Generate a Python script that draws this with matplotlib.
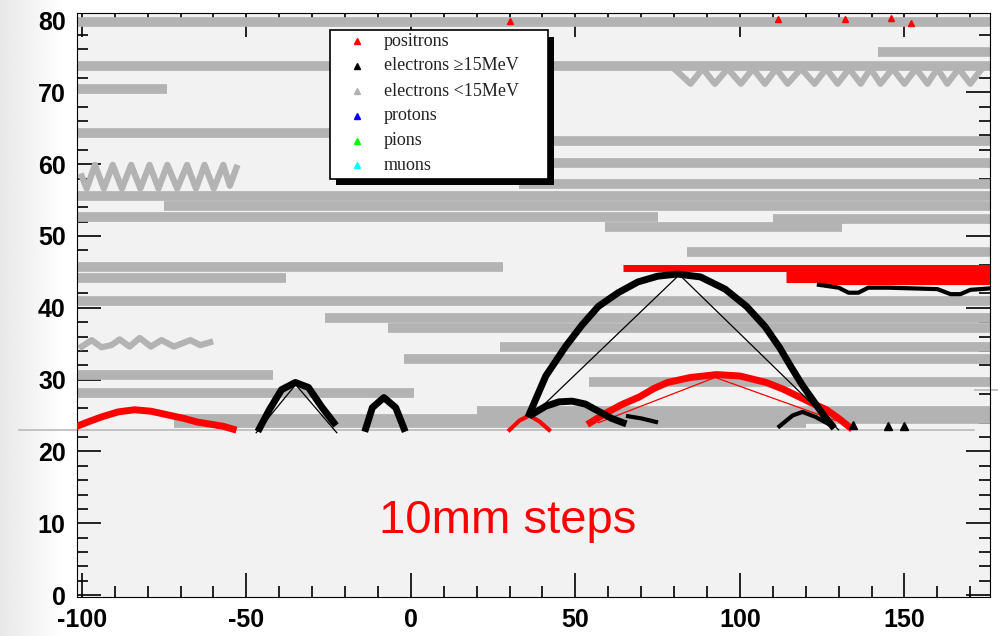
import numpy as np
import matplotlib
matplotlib.use('Agg')
import matplotlib.pyplot as plt
from matplotlib.patches import Rectangle
from matplotlib.ticker import MultipleLocator

plt.rcParams['axes.unicode_minus'] = False

# straight tracks of low energy electrons: start x, end x, height
grey_x0 = [-101.5, -101.5, 142, -101.5, -101.5, 40, 40, 33, -101.5, -75, -101.5, 110, 59,
           -101.5, 84, -101.5, -101.5, -26, -7, 27, -2, -101.5, -101.5, 54, -72, 20, -72]
grey_x1 = [176, 176, 176, -74, -5, 176, 176, 176, 176, 176, 75, 176, 131,
           28, 176, -38, 176, 176, 176, 176, 176, -42, 1, 176, 176, 176, 120]
grey_y = [79.8, 73.6, 75.6, 70.4, 64.4, 63.2, 60.2, 57.3, 55.6, 54.2, 52.6, 52.4, 51.3,
          45.7, 47.8, 44.2, 40.9, 38.6, 37.2, 34.6, 32.8, 30.7, 28.2, 29.6, 24.5, 25.6, 23.9]

# curling (helix) tracks
wave1_x = [-100, -98.5, -96, -93.3, -90.6, -87.8, -85, -82.2, -79.4, -76.7, -74, -71,
           -68, -65.3, -62.7, -59.9, -57, -55, -53]
wave1_y = [58.3, 56.6, 59.9, 56.6, 59.9, 56.6, 59.9, 56.6, 59.9, 56.6, 59.9, 56.6,
           59.9, 56.6, 59.9, 56.6, 59.9, 57.0, 59.5]
wave2_x = [-100, -97, -94, -91, -88.5, -85.5, -82.4, -79, -75.8, -72, -67, -64, -61]
wave2_y = [34.6, 35.5, 34.5, 34.8, 35.6, 34.6, 35.8, 34.6, 35.5, 34.6, 35.5, 34.8, 35.2]
wave3_x = [80, 85, 88.7, 92.4, 96.3, 100.3, 104, 107.6, 111, 114.5, 118.6, 122.7, 126.2,
           129.7, 133.2, 136.7, 139.7, 142.7, 146.4, 150, 153.5, 157, 160, 163, 166.5, 170, 173]
wave3_y = [73.3, 71.2, 73.3, 71.2, 73.3, 71.2, 73.3, 71.2, 73.3, 71.2, 73.3, 71.2, 73.3,
           71.2, 73.3, 71.2, 73.3, 71.2, 73.3, 71.2, 73.3, 71.2, 73.3, 71.2, 73.3, 71.2, 73.0]

# electrons >= 15 MeV
e_big_x = [36, 41, 47, 52, 57, 63, 69, 75, 81, 88, 95.5, 102, 107.6, 112, 115.5, 119, 122.7, 125.5, 128]
e_big_y = [25.2, 30.5, 34.6, 37.6, 40.2, 42.1, 43.6, 44.4, 44.7, 44.3, 42.6, 40.2, 37.4, 34.5,
           31.8, 29.2, 26.8, 25.0, 23.6]
e_big_chord_x = [37, 81.6, 130]
e_big_chord_y = [25.0, 44.6, 23.0]
e_mid_x = [37, 41, 45, 49, 53, 57, 61, 64.5]
e_mid_y = [25.2, 26.3, 26.9, 27.0, 26.6, 25.6, 24.6, 24.0]
e_a_x = [-46, -43, -39.3, -35.1, -31.1, -27.1, -23.4]
e_a_y = [23.2, 25.8, 28.6, 29.6, 28.9, 26.2, 24.0]
e_a_chord_x = [-47, -35, -22.5]
e_a_chord_y = [22.6, 29.3, 22.6]
e_b_x = [-13.7, -11.7, -8.2, -4.6, -2.1]
e_b_y = [23.2, 26.1, 27.5, 26.1, 23.2]
e_c_x = [112, 116, 119, 123, 127]
e_c_y = [23.5, 25.0, 25.5, 24.8, 23.8]
e_d_x = [66, 70, 74.5]
e_d_y = [24.9, 24.6, 24.1]
e_wig_x = [124, 130, 133, 136, 139, 145, 160, 164, 167, 170, 176]
e_wig_y = [43.2, 42.8, 42.1, 42.1, 42.8, 42.8, 42.6, 41.9, 41.9, 42.5, 42.7]
e_dot_x = [134.5, 145, 150]
e_dot_y = [23.7, 23.5, 23.5]

# positrons
p_left_x = [-101.5, -97, -94, -89, -84, -79, -74, -69, -65, -61, -57, -54]
p_left_y = [23.5, 24.3, 24.8, 25.5, 25.8, 25.6, 25.1, 24.6, 24.1, 23.8, 23.5, 23.1]
p_big_x = [54.5, 59.5, 64, 69.5, 74, 78, 85, 93, 100, 108, 113, 118, 122, 126.3, 130, 133.3]
p_big_y = [24.0, 25.4, 26.5, 27.6, 28.8, 29.6, 30.3, 30.7, 30.5, 29.6, 28.7, 27.6, 26.7, 25.8, 24.6, 23.4]
p_big_chord_x = [57, 92.5, 129]
p_big_chord_y = [24.0, 30.3, 24.3]
p_small_x = [30, 33, 36, 39, 42]
p_small_y = [23.0, 24.3, 25.0, 24.2, 23.0]
p_band_x0 = [64.5, 114, 124]
p_band_x1 = [176, 176, 176]
p_band_y = [45.5, 44.3, 43.4]
p_top_x = [30, 111.5, 132, 146, 152]
p_top_y = [80.0, 80.2, 80.2, 80.3, 79.6]

legend_labels = ['positrons', 'electrons \u226515MeV', 'electrons <15MeV', 'protons', 'pions', 'muons']
legend_colors = ['#ff0000', '#000000', '#b3b3b3', '#0000ff', '#00ff00', '#00ffff']

GREY = '#b3b3b3'
RED = '#ff0000'

fig = plt.figure(figsize=(9.98, 6.36), dpi=100)
fig.patch.set_facecolor('white')

# faint slide shadow on the left edge
bg = fig.add_axes([0, 0, 0.065, 1])
bg.imshow(np.linspace(0.91, 1.0, 64)[None, :], cmap='gray', vmin=0, vmax=1,
          aspect='auto', extent=[0, 1, 0, 1])
bg.axis('off')

ax = fig.add_axes([0.077, 0.061, 0.915, 0.918])
ax.set_facecolor('#f2f2f2')

ax.hlines(grey_y, grey_x0, grey_x1, color=GREY, lw=7, zorder=2)
for wx, wy in [(wave1_x, wave1_y), (wave2_x, wave2_y), (wave3_x, wave3_y)]:
    ax.plot(wx, wy, color=GREY, lw=4.5, zorder=2, solid_joinstyle='round')

# baseline lines from the slide
ax.plot([-119, 171], [23.0, 23.0], color='#bfbfbf', lw=1.3, zorder=2.5, clip_on=False)
ax.plot([171.5, 178.5], [28.6, 28.6], color='#bfbfbf', lw=1.3, zorder=2.5, clip_on=False)

# positrons
ax.hlines(p_band_y, p_band_x0, p_band_x1, color=RED, lw=[5, 8, 3], zorder=3)
for px, py in [(p_left_x, p_left_y), (p_big_x, p_big_y)]:
    ax.plot(px, py, color=RED, lw=5, zorder=3, solid_joinstyle='round')
ax.plot(p_big_chord_x, p_big_chord_y, color=RED, lw=0.9, zorder=3)
ax.plot(p_small_x, p_small_y, color=RED, lw=3, zorder=3)
ax.plot(p_top_x, p_top_y, ls='none', marker='^', ms=5, color=RED, zorder=3)

# electrons >= 15 MeV
for ex, ey in [(e_big_x, e_big_y), (e_mid_x, e_mid_y), (e_a_x, e_a_y), (e_b_x, e_b_y)]:
    ax.plot(ex, ey, color='black', lw=5, zorder=4, solid_joinstyle='round')
for ex, ey in [(e_c_x, e_c_y), (e_d_x, e_d_y), (e_wig_x, e_wig_y)]:
    ax.plot(ex, ey, color='black', lw=3, zorder=4, solid_joinstyle='round')
ax.plot(e_big_chord_x, e_big_chord_y, color='black', lw=0.9, zorder=4)
ax.plot(e_a_chord_x, e_a_chord_y, color='black', lw=0.9, zorder=4)
ax.plot(e_dot_x, e_dot_y, ls='none', marker='^', ms=6, color='black', zorder=4)

ax.text(29.5, 10.3, '10mm steps', color=RED, fontsize=34, family='Liberation Sans',
        ha='center', va='center', zorder=5)

# legend box with ROOT style black shadow
lx0, lx1, ly0, ly1 = 0.277, 0.516, 0.717, 0.971
ax.add_patch(Rectangle((lx0 + 0.007, ly0 - 0.011), lx1 - lx0, ly1 - ly0, transform=ax.transAxes,
                       facecolor='black', edgecolor='none', zorder=6))
ax.add_patch(Rectangle((lx0, ly0), lx1 - lx0, ly1 - ly0, transform=ax.transAxes,
                       facecolor='white', edgecolor='black', lw=1.2, zorder=7))
rows = [0.952, 0.910, 0.867, 0.825, 0.782, 0.740]
for lab, col, ry in zip(legend_labels, legend_colors, rows):
    ax.plot([0.307], [ry], transform=ax.transAxes, marker='^', ms=4, color=col, ls='none', zorder=8)
    ax.text(0.336, ry, lab, transform=ax.transAxes, fontsize=13, family='Liberation Serif',
            color='#222222', va='center', ha='left', zorder=8)

ax.set_xlim(-101.5, 176)
ax.set_ylim(-0.3, 81)
ax.xaxis.set_major_locator(MultipleLocator(50))
ax.xaxis.set_minor_locator(MultipleLocator(10))
ax.yaxis.set_major_locator(MultipleLocator(10))
ax.yaxis.set_minor_locator(MultipleLocator(2))
ax.tick_params(which='both', direction='in', top=True, right=True, width=1.2, color='black')
ax.tick_params(which='major', length=17)
ax.tick_params(which='minor', length=8)
ax.tick_params(axis='x', which='major', pad=8)
ax.tick_params(axis='y', which='major', pad=8)
for lbl in ax.get_xticklabels() + ax.get_yticklabels():
    lbl.set_fontfamily('Liberation Sans')
    lbl.set_fontweight('bold')
    lbl.set_fontsize(18)
for lbl in ax.get_yticklabels():
    lbl.set_verticalalignment('center_baseline')

plt.savefig('out.png', dpi=100)
